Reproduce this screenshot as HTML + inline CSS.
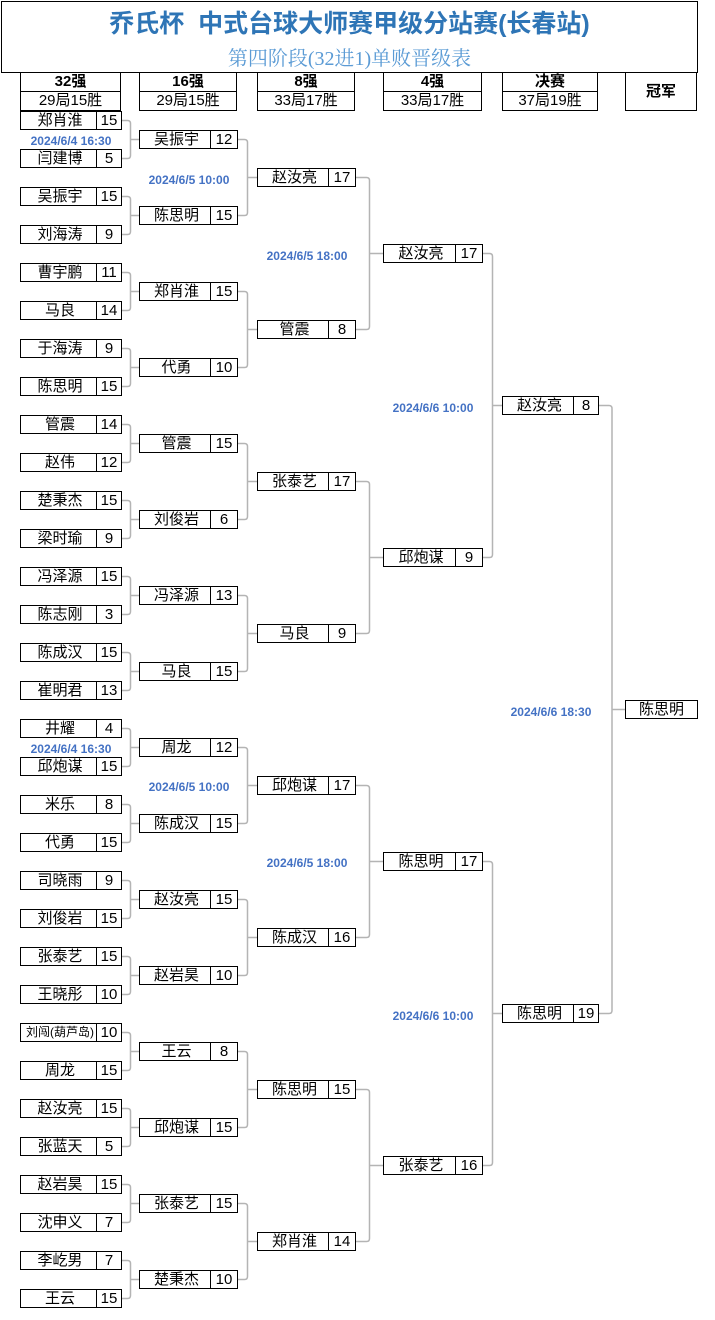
<!DOCTYPE html>
<html><head><meta charset="utf-8">
<style>
body{margin:0;background:#fff;width:715px;height:1320px;position:relative;overflow:hidden;font-family:"Liberation Sans","Noto Sans CJK SC",sans-serif;}
.b{position:absolute;height:19px;border:1px solid #000;box-sizing:border-box;background:#fff;font-size:15px;line-height:17px;color:#000}
.b .n{position:absolute;left:0;top:0;bottom:0;text-align:center}
.b .s{position:absolute;right:0;top:0;bottom:0;border-left:1px solid #000;text-align:center}
.d{position:absolute;font-size:12px;font-weight:bold;color:#4472c4;width:100px;text-align:center;line-height:12px}
.h{position:absolute;border:1px solid #000;box-sizing:border-box;text-align:center;font-size:15px;line-height:17px;background:#fff}
</style></head><body>
<div style="position:absolute;left:1px;top:1px;width:697px;height:72px;border:1px solid #000;box-sizing:border-box"></div>
<div style="position:absolute;left:1px;width:697px;top:8px;text-align:center;font-family:'Liberation Sans','Noto Sans CJK SC',sans-serif;font-size:25px;font-weight:bold;color:#2e75b6;line-height:32px">乔氏杯&nbsp; 中式台球大师赛甲级分站赛(长春站)</div>
<div style="position:absolute;left:1px;width:697px;top:47px;text-align:center;font-family:'Liberation Serif','Noto Serif CJK SC',serif;font-size:20px;color:#5b9bd5;line-height:24px">第四阶段(32进1)单败晋级表</div>

<div class="h" style="left:20px;top:72px;width:101px;height:20px;font-weight:bold">32强</div>
<div class="h" style="left:20px;top:91px;width:101px;height:20px">29局15胜</div>
<div class="h" style="left:139px;top:72px;width:98px;height:20px;font-weight:bold">16强</div>
<div class="h" style="left:139px;top:91px;width:98px;height:20px">29局15胜</div>
<div class="h" style="left:257px;top:72px;width:98px;height:20px;font-weight:bold">8强</div>
<div class="h" style="left:257px;top:91px;width:98px;height:20px">33局17胜</div>
<div class="h" style="left:383px;top:72px;width:99px;height:20px;font-weight:bold">4强</div>
<div class="h" style="left:383px;top:91px;width:99px;height:20px">33局17胜</div>
<div class="h" style="left:502px;top:72px;width:96px;height:20px;font-weight:bold">决赛</div>
<div class="h" style="left:502px;top:91px;width:96px;height:20px">37局19胜</div>
<div class="h" style="left:625px;top:72px;width:72px;height:39px;font-weight:bold;line-height:37px">冠军</div>

<svg id="sv" width="715" height="1320" style="position:absolute;left:0;top:0"></svg>

<div class="d" style="left:21px;top:135px">2024/6/4 16:30</div>
<div class="d" style="left:21px;top:743px">2024/6/4 16:30</div>
<div class="d" style="left:139px;top:174px">2024/6/5 10:00</div>
<div class="d" style="left:139px;top:781px">2024/6/5 10:00</div>
<div class="d" style="left:257px;top:250px">2024/6/5 18:00</div>
<div class="d" style="left:257px;top:857px">2024/6/5 18:00</div>
<div class="d" style="left:383px;top:402px">2024/6/6 10:00</div>
<div class="d" style="left:383px;top:1010px">2024/6/6 10:00</div>
<div class="d" style="left:501px;top:706px">2024/6/6 18:30</div>

<div id="c"></div>
<script>
var R=[
[["郑肖淮",15],["闫建博",5],["吴振宇",15],["刘海涛",9],["曹宇鹏",11],["马良",14],["于海涛",9],["陈思明",15],["管震",14],["赵伟",12],["楚秉杰",15],["梁时瑜",9],["冯泽源",15],["陈志刚",3],["陈成汉",15],["崔明君",13],["井耀",4],["邱炮谋",15],["米乐",8],["代勇",15],["司晓雨",9],["刘俊岩",15],["张泰艺",15],["王晓彤",10],["刘闯(葫芦岛)",10],["周龙",15],["赵汝亮",15],["张蓝天",5],["赵岩昊",15],["沈申义",7],["李屹男",7],["王云",15]],
[["吴振宇",12],["陈思明",15],["郑肖淮",15],["代勇",10],["管震",15],["刘俊岩",6],["冯泽源",13],["马良",15],["周龙",12],["陈成汉",15],["赵汝亮",15],["赵岩昊",10],["王云",8],["邱炮谋",15],["张泰艺",15],["楚秉杰",10]],
[["赵汝亮",17],["管震",8],["张泰艺",17],["马良",9],["邱炮谋",17],["陈成汉",16],["陈思明",15],["郑肖淮",14]],
[["赵汝亮",17],["邱炮谋",9],["陈思明",17],["张泰艺",16]],
[["赵汝亮",8],["陈思明",19]]];
var G=[[20,121,98,111,38],[139,237,212,130,76],[257,355,330,168,152],[383,482,457,244,304],[502,598,575,396,608]];
var h="",p="";
R.forEach(function(r,i){var g=G[i];r.forEach(function(e,k){var y=g[3]+g[4]*k;var fs=e[0].length>4?"font-size:12px;":"";
h+='<div class="b" style="left:'+g[0]+'px;top:'+y+'px;width:'+(g[1]-g[0]+1)+'px"><div class="n" style="width:'+(g[2]-g[0])+'px;'+fs+'">'+e[0]+'</div><div class="s" style="width:'+(g[1]-g[2]+1)+'px">'+e[1]+'</div></div>';
if(k%2==0){var ya=y+9.5,yb=y+g[4]+9.5,nx=i<4?G[i+1][0]:625,xm=(g[1]+nx)/2+0.5,yc=(ya+yb)/2;
p+='<path d="M'+(g[1]+1)+' '+ya+'H'+(xm-3)+'Q'+xm+' '+ya+' '+xm+' '+(ya+3)+'V'+(yb-3)+'Q'+xm+' '+yb+' '+(xm-3)+' '+yb+'H'+(g[1]+1)+'M'+xm+' '+yc+'H'+nx+'"/>';}});});
h+='<div class="b" style="left:625px;top:700px;width:73px"><div class="n" style="width:71px">陈思明</div></div>';
document.getElementById("c").innerHTML=h;
document.getElementById("sv").innerHTML='<g fill="none" stroke="#b4b4b4" stroke-width="1.5">'+p+'</g>';
</script>
</body></html>
